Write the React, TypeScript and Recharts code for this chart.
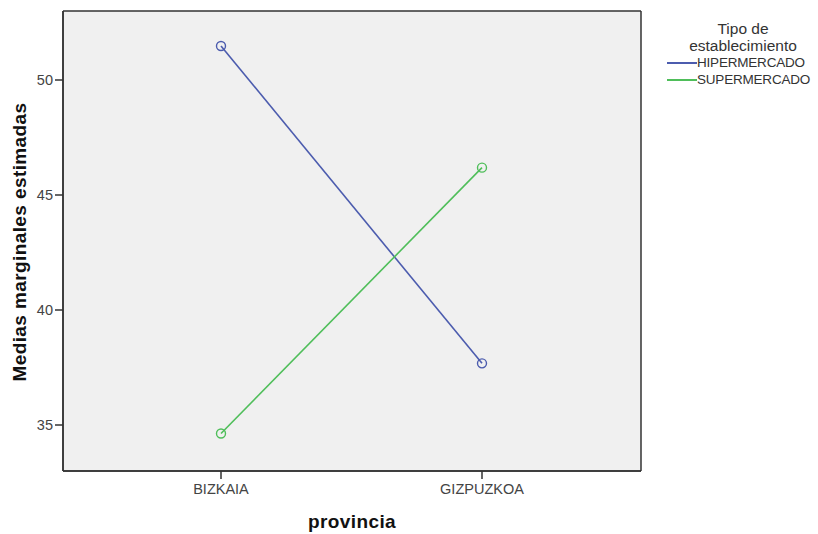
import { LineChart, Line, XAxis, YAxis, CartesianGrid, Label } from 'recharts'

const provincias = ['BIZKAIA', 'GIZPUZKOA']
const hipermercado = [51.48, 37.68]
const supermercado = [34.63, 46.19]
const yTicks = [35, 40, 45, 50]

const legendTitle = ['Tipo de', 'establecimiento']
const series = [
  { key: 'hiper', name: 'HIPERMERCADO', color: '#4c5cae' },
  { key: 'super', name: 'SUPERMERCADO', color: '#4fbe5a' },
]

const data = provincias.map((p, i) => ({
  provincia: p,
  hiper: hipermercado[i],
  super: supermercado[i],
}))

const frame = { stroke: '#333', strokeWidth: 1.5 }
const tickStyle = { fill: '#444', fontSize: 14.5 }

export default function App() {
  return (
    <div
      style={{
        position: 'absolute',
        left: 0,
        top: 0,
        width: 818,
        height: 534,
        background: '#fff',
        fontFamily: '"Liberation Sans", Arial, sans-serif',
      }}
    >
      <LineChart
        width={818}
        height={534}
        data={data}
        margin={{ top: 11, right: 177, bottom: 0, left: 0 }}
      >
        {/* plot background plus the box round it */}
        <CartesianGrid
          fill="#f0f0f0"
          stroke="#333"
          strokeWidth={1.5}
          strokeOpacity={1}
          horizontalCoordinatesGenerator={({ offset }: any) => [offset.top, offset.top + offset.height]}
          verticalCoordinatesGenerator={({ offset }: any) => [offset.left, offset.left + offset.width]}
        />
        <XAxis
          dataKey="provincia"
          height={63}
          padding={{ left: 158, right: 159 }}
          tickSize={8}
          tickMargin={5}
          tick={tickStyle}
          tickLine={{ stroke: '#333', strokeWidth: 1.5 }}
          axisLine={frame}
          interval={0}
        >
          <Label
            content={({ viewBox }: any) => (
              <text
                x={viewBox.x + viewBox.width / 2}
                y={528}
                textAnchor="middle"
                fontSize={19}
                fontWeight="bold"
                letterSpacing={0.4}
                fill="#111"
              >
                provincia
              </text>
            )}
          />
        </XAxis>
        <YAxis
          domain={[33, 53]}
          ticks={yTicks}
          width={63}
          tickSize={8}
          tick={tickStyle}
          tickLine={{ stroke: '#333', strokeWidth: 1.5 }}
          axisLine={frame}
        >
          <Label
            content={({ viewBox }: any) => {
              const cx = 26
              const cy = viewBox.y + viewBox.height / 2 + 1
              return (
                <text
                  x={cx}
                  y={cy}
                  transform={`rotate(-90 ${cx} ${cy})`}
                  textAnchor="middle"
                  fontSize={19}
                  fontWeight="bold"
                  letterSpacing={0.4}
                  fill="#111"
                >
                  Medias marginales estimadas
                </text>
              )
            }}
          />
        </YAxis>
        {series.map((s) => (
          <Line
            key={s.key}
            type="linear"
            dataKey={s.key}
            name={s.name}
            stroke={s.color}
            strokeWidth={1.6}
            dot={{ r: 4.5, fill: 'none', stroke: s.color, strokeWidth: 1.4 }}
            isAnimationActive={false}
          />
        ))}
      </LineChart>
      <div
        style={{
          position: 'absolute',
          left: 667,
          top: 20,
          width: 151,
          color: '#333',
        }}
      >
        <div style={{ textAlign: 'center', fontSize: 15.5, lineHeight: '17px', width: 152 }}>
          {legendTitle.map((t) => (
            <div key={t}>{t}</div>
          ))}
        </div>
        {series.map((s) => (
          <div
            key={s.key}
            style={{ display: 'flex', alignItems: 'center', height: 17, fontSize: 13.5 }}
          >
            <span style={{ display: 'inline-block', width: 30, height: 2, background: s.color }} />
            <span style={{ letterSpacing: -0.2 }}>{s.name}</span>
          </div>
        ))}
      </div>
    </div>
  )
}
